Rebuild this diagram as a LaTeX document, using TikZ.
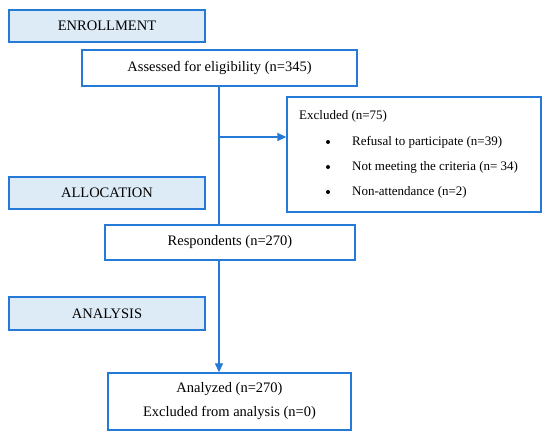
\documentclass[tikz,border=0pt]{standalone}
\usepackage{fontspec}
\setmainfont{Liberation Serif}
\usetikzlibrary{arrows.meta,calc,positioning}
\definecolor{FlowBlue}{RGB}{36,122,214}
\definecolor{StageFill}{RGB}{221,235,247}

\begin{document}
\begin{tikzpicture}[x=1pt,y=-1pt,
    box/.style={draw=FlowBlue,line width=1.3pt,fill=white,inner sep=0pt,
      align=center,font=\fontsize{14.5}{24}\selectfont},
    stage/.style={box,fill=StageFill,minimum width=196pt,minimum height=32pt},
    item/.style={anchor=west,inner sep=0pt,font=\fontsize{13}{15}\selectfont},
    link/.style={FlowBlue,line width=1.3pt},
    tip/.style={link,-{Triangle[length=9pt,width=8pt]}}]
  \useasboundingbox (0,0) rectangle (550,438);
  % stage labels on the left
  \node[stage] (enrol) at (107,26) {ENROLLMENT};
  \node[stage] (alloc) at (107,193) {ALLOCATION};
  \node[stage,minimum height=33pt] (analy) at (107,313.5) {ANALYSIS};
  % flow boxes
  \node[box,minimum width=275pt,minimum height=36pt] (assess) at (219.5,68)
    {Assessed for eligibility (n=345)};
  \node[box,minimum width=254pt,minimum height=115pt] (excl) at (414,154.5) {};
  \node[box,minimum width=250pt,minimum height=35pt] (resp) at (230,242.5)
    {Respondents (n=270)};
  \node[box,minimum width=243pt,minimum height=57pt] (done) at (229.5,401.5)
    {Analyzed (n=270)\\Excluded from analysis (n=0)};
  % excluded reasons
  \node[item] (exhead) at (299,116) {Excluded (n=75)};
  \foreach \y/\txt [count=\i] in {142/Refusal to participate (n=39),
      167/Not meeting the criteria (n= 34),192/Non-attendance (n=2)}{
    \fill (328,\y) circle (2pt);
    \node[item] (reason\i) at (352,\y) {\txt};
  }
  % connectors
  \coordinate (branch) at (219,137);
  \coordinate (spine) at (219,0);
  \draw[link] (spine |- assess.south) -- (spine |- resp.north);
  \draw[tip] (branch) -- (excl.west |- branch);
  \draw[tip] (spine |- resp.south) -- (spine |- done.north);
\end{tikzpicture}
\end{document}
